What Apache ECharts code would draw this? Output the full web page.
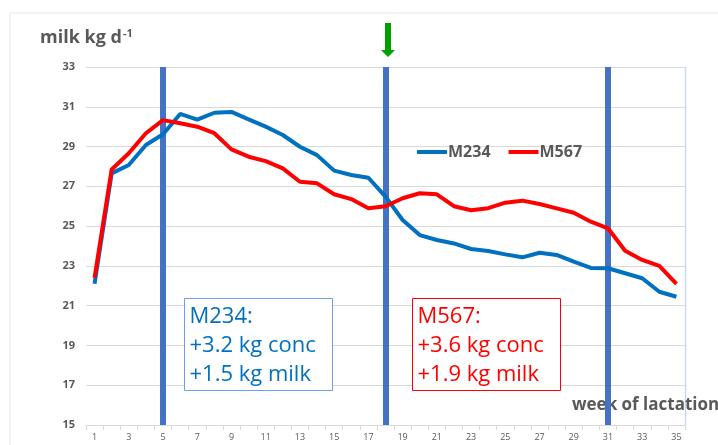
<!DOCTYPE html>
<html>
<head>
<meta charset="utf-8">
<script src="https://cdn.jsdelivr.net/npm/echarts@6/dist/echarts.min.js"></script>
<style>
  html, body { margin: 0; padding: 0; background: #fff; }
  #main { width: 718px; height: 445px; }
</style>
</head>
<body>
<div id="main"></div>
<script>
// weeks of lactation
var weeks = [];
for (var w = 1; w <= 35; w++) weeks.push(String(w));

// milk yield, kg/d
var m234 = [22.1,27.65,28.07,29.08,29.62,30.64,30.35,30.7,30.74,30.37,30.0,29.58,28.99,28.57,27.79,27.57,27.43,26.48,25.31,24.55,24.3,24.13,23.85,23.75,23.58,23.43,23.66,23.55,23.21,22.9,22.88,22.63,22.38,21.7,21.45];
var m567 = [22.4,27.85,28.66,29.67,30.33,30.17,30.0,29.67,28.86,28.49,28.27,27.9,27.23,27.15,26.6,26.36,25.9,26.0,26.4,26.65,26.6,26.0,25.8,25.9,26.18,26.28,26.11,25.89,25.67,25.22,24.89,23.76,23.3,23.0,22.09];

// weeks with the blue marker lines
var markWeeks = ['5', '18', '31'];

var grey = '#595959';
var font = '"Open Sans", "Noto Sans", sans-serif';

var myChart = echarts.init(document.getElementById('main'));
var option = {
  animation: false,
  textStyle: { fontFamily: font },
  grid: { left: 86, right: 33, top: 67, bottom: 20, containLabel: false },
  legend: {
    left: 412, top: 139,
    icon: 'rect', itemWidth: 30, itemHeight: 4, itemGap: 18,
    textStyle: { color: grey, fontSize: 16, fontWeight: 'bold', padding: [0, 0, 0, -4] },
    data: ['M234', 'M567']
  },
  xAxis: {
    type: 'category',
    data: weeks,
    boundaryGap: true,
    axisLine: { lineStyle: { color: '#d9d9d9' } },
    axisTick: { show: true, interval: 0, length: 5, lineStyle: { color: '#d9d9d9' } },
    axisLabel: { interval: 1, color: grey, fontSize: 9, margin: 8 }
  },
  yAxis: {
    type: 'value',
    min: 15, max: 33, interval: 2,
    axisLine: { show: false },
    axisTick: { show: false },
    axisLabel: { color: grey, fontSize: 11, fontWeight: 'bold', margin: 11 },
    splitLine: { lineStyle: { color: '#d9d9d9' } }
  },
  series: [
    {
      name: 'M234', type: 'line', data: m234,
      symbol: 'none', smooth: false,
      lineStyle: { color: '#0070C0', width: 4 },
      itemStyle: { color: '#0070C0' },
      z: 3
    },
    {
      name: 'M567', type: 'line', data: m567,
      symbol: 'none',
      lineStyle: { color: '#FF0000', width: 4 },
      itemStyle: { color: '#FF0000' },
      z: 4,
      markLine: {
        silent: true,
        symbol: 'none',
        label: { show: false },
        lineStyle: { color: '#4472C4', width: 6, type: 'solid' },
        data: markWeeks.map(function (w) { return { xAxis: w }; }),
        z: 1
      }
    }
  ],
  graphic: [
    { type: 'rect', shape: { x: 10, y: 13, width: 800, height: 500 }, style: { fill: 'none', stroke: '#e8e8e8', lineWidth: 1 }, silent: true },
    { type: 'line', shape: { x1: 685.5, y1: 67, x2: 685.5, y2: 425 }, style: { stroke: '#c9daf0', lineWidth: 1.5 }, silent: true },
    {
      type: 'text', left: 40, top: 28,
      style: {
        text: '{a|milk kg d}{s|-1}',
        rich: {
          a: { fontSize: 18, fontWeight: 'bold', fill: grey, fontFamily: font },
          s: { fontSize: 11, fontWeight: 'bold', fill: grey, fontFamily: font, verticalAlign: 'top', padding: [0, 0, 9, 1] }
        }
      }
    },
    {
      type: 'text', left: 572, top: 397,
      style: { text: 'week of lactation', fontSize: 17, fontWeight: 'bold', fill: grey, fontFamily: font }
    },
    {
      type: 'polygon', silent: true,
      shape: { points: [[385, 23], [391, 23], [391, 50], [395, 50], [388, 57], [381, 50], [385, 50]] },
      style: { fill: '#00A000' }
    },
    {
      type: 'group', left: 184, top: 298, z: 100,
      children: [
        { type: 'rect', z: 100, shape: { x: 0, y: 0, width: 148, height: 92 }, style: { fill: '#fff', stroke: '#6d9eeb', lineWidth: 1 } },
        { type: 'text', z: 101, x: 5, y: 4, style: { text: 'M234:\n+3.2 kg conc\n+1.5 kg milk', fontSize: 22, lineHeight: 29, fill: '#0070C0', fontFamily: font } }
      ]
    },
    {
      type: 'group', left: 412, top: 298, z: 100,
      children: [
        { type: 'rect', z: 100, shape: { x: 0, y: 0, width: 148, height: 92 }, style: { fill: '#fff', stroke: '#FF0000', lineWidth: 1 } },
        { type: 'text', z: 101, x: 5, y: 4, style: { text: 'M567:\n+3.6 kg conc\n+1.9 kg milk', fontSize: 22, lineHeight: 29, fill: '#FF0000', fontFamily: font } }
      ]
    }
  ]
};
myChart.setOption(option);
</script>
</body>
</html>
